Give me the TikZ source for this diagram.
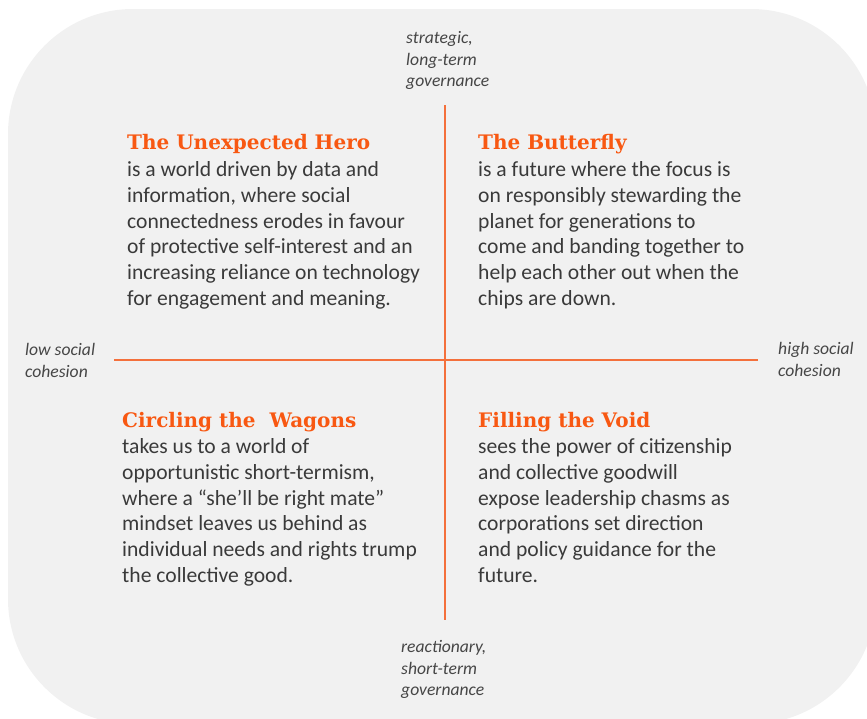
\documentclass[tikz,border=0pt]{standalone}
\usepackage{fontspec}
\setmainfont{Carlito}
\newfontfamily\headfont{DejaVu Serif}
\definecolor{axisline}{RGB}{244,112,60}
\definecolor{heading}{RGB}{248,88,18}
\definecolor{bodytext}{RGB}{58,58,58}
\definecolor{labeltext}{RGB}{70,70,70}
\definecolor{panel}{RGB}{241,241,241}
\tikzset{
  axis/.style={draw=axisline, line width=1.8pt},
  quad/.style={inner sep=0pt, align=left, text=bodytext,
    font=\fontsize{21.6}{25.9}\selectfont},
  headline/.style={inner sep=0pt, anchor=base west, text=heading,
    font=\headfont\bfseries\fontsize{20}{26}\selectfont},
  axislabel/.style={inner sep=0pt, align=left, text=labeltext,
    font=\itshape\fontsize{17.6}{21.7}\selectfont},
}
\begin{document}
\begin{tikzpicture}[x=1pt,y=-1pt]
\useasboundingbox (0,0) rectangle (867,718);
% rounded backdrop panel
\fill[panel, rounded corners=125pt] (8,9) rectangle (876,724);

% axes
\coordinate (top) at (445,105);
\coordinate (bottom) at (445,620);
\coordinate (left) at (114,360);
\coordinate (right) at (758,360);
\draw[axis] (top) -- (bottom);
\draw[axis] (left) -- (right);

% axis labels
\node[axislabel, anchor=north west] (strategic) at (406,31) {strategic,\\long-term\\governance};
\node[axislabel, anchor=north west] (reactive) at (401,640) {reactionary,\\short-term\\governance};
\node[axislabel, anchor=north west] (lowcoh) at (25,343) {low social\\cohesion};
\node[axislabel, anchor=north west] (highcoh) at (778,342) {high social\\cohesion};

% quadrant headings
\node[headline] (heroT) at (127,149) {The Unexpected Hero};
\node[headline] (butterT) at (478,149) {The Butterfly};
\node[headline] (wagonT) at (122,427) {Circling the\ \ Wagons};
\node[headline] (voidT) at (478,427) {Filling the Void};

% quadrant descriptions
\node[quad, anchor=north west] (hero) at (127,161) {is a world driven by data and\\information, where social\\connectedness erodes in favour\\of protective self-interest and an\\increasing reliance on technology\\for engagement and meaning.};
\node[quad, anchor=north west] (butter) at (478,161) {is a future where the focus is\\on responsibly stewarding the\\planet for generations to\\come and banding together to\\help each other out when the\\chips are down.};
\node[quad, anchor=north west] (wagon) at (122,438) {takes us to a world of\\opportunistic short-termism,\\where a “she’ll be right mate”\\mindset leaves us behind as\\individual needs and rights trump\\the collective good.};
\node[quad, anchor=north west] (void) at (478,438) {sees the power of citizenship\\and collective goodwill\\expose leadership chasms as\\corporations set direction\\and policy guidance for the\\future.};
\end{tikzpicture}
\end{document}
